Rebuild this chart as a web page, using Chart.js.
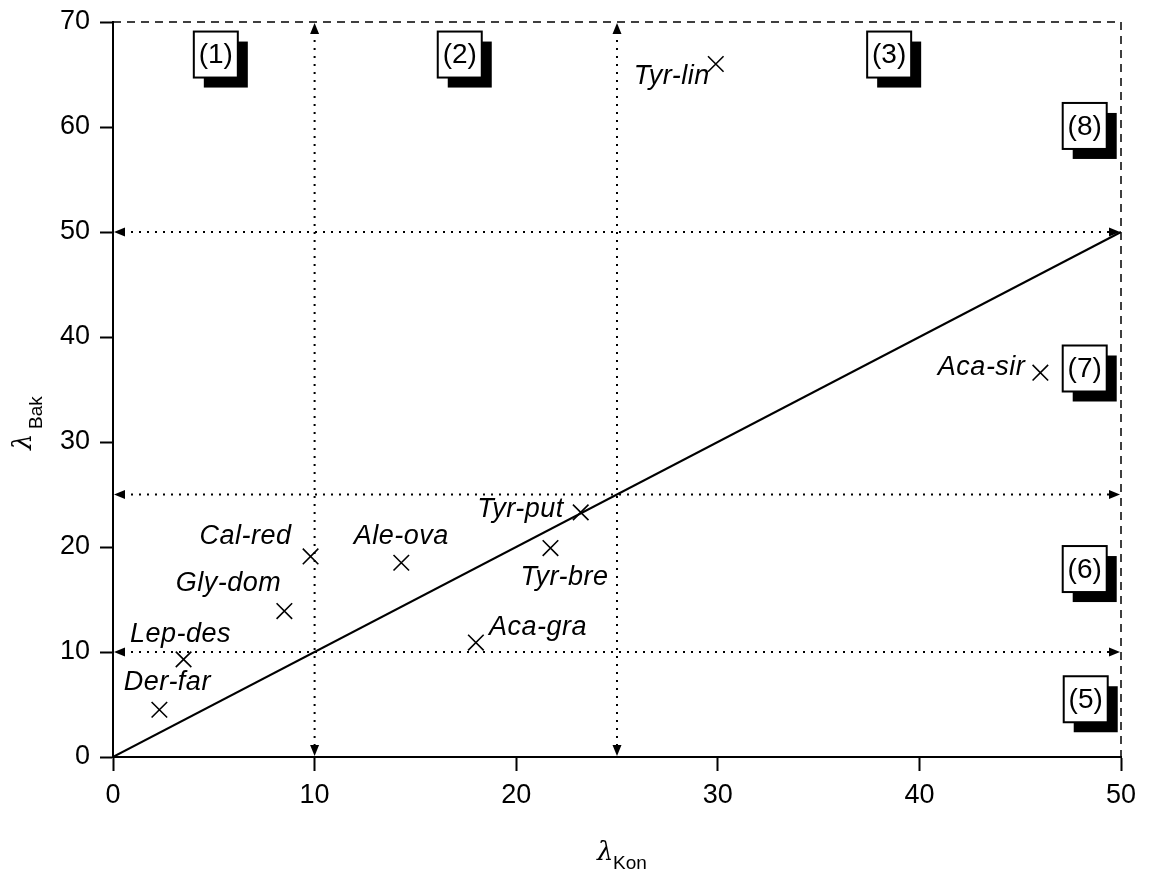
<!DOCTYPE html>
<html lang="en">
  <head>
    <meta charset="UTF-8" />
    <title>lambda Kon vs lambda Bak</title>
    <style>
      html, body { margin: 0; padding: 0; background: #fff; }
      #wrap { width: 1152px; height: 876px; }
    </style>
  </head>
  <body>
    <div id="wrap"><canvas id="graphic"></canvas></div>
    <script src="https://cdn.jsdelivr.net/npm/chart.js"></script>
    <script>
      // species and their values
      const species = ["Der-far", "Lep-des", "Gly-dom", "Cal-red", "Ale-ova", "Tyr-put", "Tyr-bre", "Aca-gra", "Tyr-lin", "Aca-sir"];
      const lambdaKon = [2.3, 3.5, 8.5, 9.8, 14.3, 23.2, 21.7, 18.0, 29.9, 46.0];
      const lambdaBak = [4.5, 9.3, 13.9, 19.1, 18.5, 23.3, 19.9, 10.9, 66.0, 36.6];

      // reference lines (dotted with arrows) and the 1:1 line
      const xRefs = [10, 25];
      const yRefs = [10, 25, 50];
      const diagonal = [0, 50];

      const xTicks = [0, 10, 20, 30, 40, 50];
      const yTicks = [0, 10, 20, 30, 40, 50, 60, 70];

      // region labels
      const regionNames = ["(1)", "(2)", "(3)", "(5)", "(6)", "(7)", "(8)"];
      const regionX = [5.1, 17.2, 38.5, 48.25, 48.2, 48.2, 48.2];
      const regionY = [66.9, 66.9, 66.9, 5.5, 17.9, 37.0, 60.1];

      // where each species label sits relative to its mark (px)
      const labelPlace = [
        { dx: 8, dy: -27, align: "center" },
        { dx: -3, dy: -25, align: "center" },
        { dx: -3, dy: -28, align: "right" },
        { dx: -19, dy: -20, align: "right" },
        { dx: 0, dy: -26, align: "center" },
        { dx: -17, dy: -3, align: "right" },
        { dx: 14, dy: 29, align: "center" },
        { dx: 13, dy: -15, align: "left" },
        { dx: -6, dy: 12, align: "right" },
        { dx: -15, dy: -5, align: "right" },
      ];

      const FONT = "'Liberation Sans', Arial, sans-serif";

      function arrow(ctx, x, y, dir) {
        // tip at (x,y)
        const L = 11, W = 4.5;
        ctx.beginPath();
        ctx.moveTo(x, y);
        if (dir === "up") { ctx.lineTo(x - W, y + L); ctx.lineTo(x + W, y + L); }
        if (dir === "down") { ctx.lineTo(x - W, y - L); ctx.lineTo(x + W, y - L); }
        if (dir === "left") { ctx.lineTo(x + L, y - W); ctx.lineTo(x + L, y + W); }
        if (dir === "right") { ctx.lineTo(x - L, y - W); ctx.lineTo(x - L, y + W); }
        ctx.closePath();
        ctx.fill();
      }

      const decor = {
        id: "decor",
        beforeDatasetsDraw(chart) {
          const { ctx, chartArea: a, scales } = chart;
          const xs = scales.x, ys = scales.y;
          ctx.save();
          ctx.strokeStyle = "#000";
          ctx.fillStyle = "#000";

          // dashed top and right frame
          ctx.lineWidth = 1.5;
          ctx.setLineDash([8, 6]);
          ctx.beginPath();
          ctx.moveTo(a.left, a.top); ctx.lineTo(a.right, a.top);
          ctx.moveTo(a.right, a.top); ctx.lineTo(a.right, a.bottom);
          ctx.stroke();

          // dotted reference lines
          ctx.lineWidth = 2;
          ctx.setLineDash([2, 6]);
          xRefs.forEach((v) => {
            const px = xs.getPixelForValue(v);
            ctx.beginPath();
            ctx.moveTo(px, a.top + 10); ctx.lineTo(px, a.bottom - 10);
            ctx.stroke();
          });
          yRefs.forEach((v) => {
            const py = ys.getPixelForValue(v);
            ctx.beginPath();
            ctx.moveTo(a.left + 10, py); ctx.lineTo(a.right - 10, py);
            ctx.stroke();
          });
          ctx.setLineDash([]);
          xRefs.forEach((v) => {
            const px = xs.getPixelForValue(v);
            arrow(ctx, px, a.top + 1, "up");
            arrow(ctx, px, a.bottom - 1, "down");
          });
          yRefs.forEach((v) => {
            const py = ys.getPixelForValue(v);
            arrow(ctx, a.left + 1, py, "left");
            arrow(ctx, a.right - 1, py, "right");
          });

          // region boxes with shadow
          regionNames.forEach((name, i) => {
            const cx = xs.getPixelForValue(regionX[i]);
            const cy = ys.getPixelForValue(regionY[i]);
            const w = 44, h = 46, off = 10;
            ctx.fillStyle = "#000";
            ctx.fillRect(cx - w / 2 + off, cy - h / 2 + off, w, h);
            ctx.fillStyle = "#fff";
            ctx.fillRect(cx - w / 2, cy - h / 2, w, h);
            ctx.lineWidth = 2;
            ctx.strokeStyle = "#000";
            ctx.strokeRect(cx - w / 2, cy - h / 2, w, h);
            ctx.fillStyle = "#000";
            ctx.font = "28px " + FONT;
            ctx.textAlign = "center";
            ctx.textBaseline = "middle";
            ctx.fillText(name, cx, cy + 1);
          });
          ctx.restore();
        },
        afterDraw(chart) {
          const { ctx, scales } = chart;
          const xs = scales.x, ys = scales.y;
          ctx.save();
          ctx.fillStyle = "#000";
          // species labels
          ctx.font = "italic 27px " + FONT;
          ctx.letterSpacing = "0.5px";
          ctx.textBaseline = "middle";
          species.forEach((s, i) => {
            const p = labelPlace[i];
            ctx.textAlign = p.align;
            ctx.fillText(s, xs.getPixelForValue(lambdaKon[i]) + p.dx, ys.getPixelForValue(lambdaBak[i]) + p.dy);
          });
          ctx.letterSpacing = "0px";

          // axis titles with subscripts
          ctx.textAlign = "left";
          ctx.textBaseline = "alphabetic";
          ctx.font = "italic 26px 'DejaVu Serif', serif";
          ctx.fillText("\u03bb", 597, 860);
          ctx.font = "19px " + FONT;
          ctx.fillText("Kon", 613, 869);

          ctx.rotate(-Math.PI / 2);
          ctx.font = "italic 26px 'DejaVu Serif', serif";
          ctx.fillText("\u03bb", -450, 31);
          ctx.font = "19px " + FONT;
          ctx.fillText("Bak", -429, 42);
          ctx.restore();
        },
      };

      const lienzo = document.getElementById("graphic");
      new Chart(lienzo, {
        type: "scatter",
        data: {
          datasets: [
            {
              type: "line",
              data: diagonal.map((v) => ({ x: v, y: v })),
              borderColor: "#000",
              borderWidth: 2,
              pointRadius: 0,
              fill: false,
            },
            {
              data: lambdaKon.map((v, i) => ({ x: v, y: lambdaBak[i] })),
              pointStyle: "crossRot",
              pointRadius: 11,
              pointBorderWidth: 1.6,
              borderColor: "#000",
              backgroundColor: "#000",
              clip: false,
            },
          ],
        },
        plugins: [decor],
        options: {
          responsive: true,
          maintainAspectRatio: false,
          animation: false,
          layout: { padding: { left: 0, right: 31, top: 22, bottom: 0 } },
          plugins: { legend: { display: false }, tooltip: { enabled: false } },
          scales: {
            x: {
              type: "linear",
              min: 0,
              max: 50,
              afterBuildTicks: (s) => { s.ticks = xTicks.map((v) => ({ value: v })); },
              afterFit: (s) => { s.height = 119; s.paddingLeft = 0; s.paddingRight = 0; },
              ticks: { color: "#000", font: { family: FONT, size: 27 }, padding: 8 },
              grid: { drawOnChartArea: false, tickLength: 14, tickWidth: 2, color: "#000" },
              border: { display: true, color: "#000", width: 2 },
            },
            y: {
              type: "linear",
              min: 0,
              max: 70,
              afterBuildTicks: (s) => { s.ticks = yTicks.map((v) => ({ value: v })); },
              afterFit: (s) => { s.width = 113; s.paddingTop = 0; s.paddingBottom = 0; },
              ticks: { color: "#000", font: { family: FONT, size: 27 }, padding: 10 },
              grid: { drawOnChartArea: false, tickLength: 13, tickWidth: 2, color: "#000" },
              border: { display: true, color: "#000", width: 2 },
            },
          },
        },
      });
    </script>
  </body>
</html>
